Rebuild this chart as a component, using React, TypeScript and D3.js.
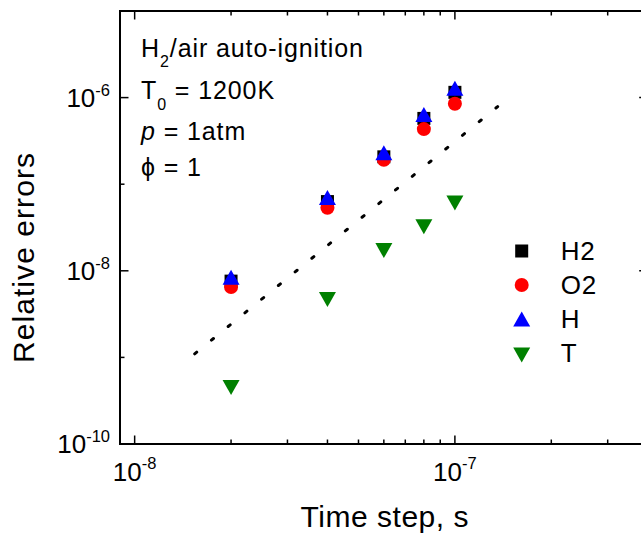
import * as d3 from "d3";

// time steps (s) and relative errors
const timeSteps = [2e-8, 4e-8, 6e-8, 8e-8, 1e-7];
const errH2 = [7.6e-9, 6.3e-8, 2.07e-7, 5.75e-7, 1.15e-6];
const errO2 = [6.5e-9, 5.35e-8, 1.91e-7, 4.33e-7, 8.5e-7];
const errH = [8.4e-9, 7.0e-8, 2.3e-7, 6.4e-7, 1.28e-6];
const errT = [4.5e-10, 4.65e-9, 1.71e-8, 3.23e-8, 6.05e-8];

// third-order reference line (end points)
const refX = [1.54e-8, 1.36e-7];
const refY = [1.1e-9, 7.87e-7];

const seriesNames = ["H2", "O2", "H", "T"];
const seriesColors = ["#000000", "#ff0000", "#0000ff", "#008000"];

const xLabelExps = [-8, -7];
const yLabelExps = [-10, -8, -6];
const yDecades = [-10, -9, -8, -7, -6, -5];

const font = "'Liberation Sans', Arial, sans-serif";

const Marker = ({ kind, cx, cy, color }) => {
  if (kind === 0) return <rect x={cx - 6.5} y={cy - 6.5} width={13} height={13} fill={color} />;
  if (kind === 1) return <circle cx={cx} cy={cy} r={7} fill={color} />;
  if (kind === 2)
    return <path d={`M${cx},${cy - 7.5}L${cx + 8.5},${cy + 7.5}L${cx - 8.5},${cy + 7.5}Z`} fill={color} />;
  return <path d={`M${cx - 8.5},${cy - 7.5}L${cx + 8.5},${cy - 7.5}L${cx},${cy + 7.5}Z`} fill={color} />;
};

export default function App() {
  const width = 641;
  const height = 533;
  const x = d3.scaleLog().domain([9e-9, 4e-7]).range([120, 647.7]);
  const y = d3.scaleLog().domain([1e-10, 1e-5]).range([444, 11]);
  const [x0, x1] = x.range();
  const [y0, y1] = y.range();

  const isDecade = (v) => Math.abs(Math.log10(v) - Math.round(Math.log10(v))) < 1e-6;
  const xTicks = x.ticks().filter((v) => x(v) > x0 + 1 && x(v) < x1 - 1);

  const series = [errH2, errO2, errH, errT];
  const line = d3
    .line()
    .x((d) => x(d[0]))
    .y((d) => y(d[1]));
  const refPts = refX.map((v, i) => [v, refY[i]]);

  return (
    <svg width={width} height={height} style={{ position: "absolute", left: 0, top: 0 }} fontFamily={font}>
      <rect width={width} height={height} fill="#fff" />

      {/* reference slope line */}
      <path
        d={line(refPts)}
        fill="none"
        stroke="#000"
        strokeWidth={3}
        strokeDasharray="2.6 19"
        strokeLinecap="round"
      />

      {/* data */}
      {series.map((vals, si) =>
        vals.map((v, i) => (
          <Marker key={si + "-" + i} kind={si} cx={x(timeSteps[i])} cy={y(v)} color={seriesColors[si]} />
        ))
      )}

      {/* frame */}
      <rect x={x0} y={y1} width={x1 - x0} height={y0 - y1} fill="none" stroke="#000" strokeWidth={2} />

      {/* x ticks (bottom and top, inward) */}
      {xTicks.map((v) => {
        const len = isDecade(v) ? 8.5 : 4.5;
        return (
          <g key={"xt" + v} stroke="#000" strokeWidth={1.5}>
            <line x1={x(v)} x2={x(v)} y1={y0} y2={y0 - len} />
            <line x1={x(v)} x2={x(v)} y1={y1} y2={y1 + len} />
          </g>
        );
      })}

      {/* y ticks (left and right, inward) */}
      {yDecades
        .filter((e) => e > -10 && e < -5)
        .map((e) => {
          const len = e % 2 === 0 ? 8.5 : 4.5;
          const yy = y(10 ** e);
          return (
            <g key={"yt" + e} stroke="#000" strokeWidth={1.5}>
              <line x1={x0} x2={x0 + len} y1={yy} y2={yy} />
              <line x1={x1} x2={x1 - len} y1={yy} y2={yy} />
            </g>
          );
        })}

      {/* tick labels */}
      {xLabelExps.map((e) => (
        <text key={"xl" + e} x={x(10 ** e)} y={y0 + 36.5} textAnchor="middle" fontSize={26}>
          10
          <tspan dy={-12} fontSize={16.5}>
            {"-" + Math.abs(e)}
          </tspan>
        </text>
      ))}
      {yLabelExps.map((e) => (
        <text key={"yl" + e} x={110} y={y(10 ** e) + 9} textAnchor="end" fontSize={26}>
          10
          <tspan dy={-11} fontSize={16.5}>
            {"-" + Math.abs(e)}
          </tspan>
        </text>
      ))}

      {/* axis titles */}
      <text x={384.5} y={527} textAnchor="middle" fontSize={30} textLength={168} lengthAdjust="spacing">
        Time step, s
      </text>
      <text
        transform="translate(34,258) rotate(-90)"
        textAnchor="middle"
        fontSize={30}
        textLength={210}
        lengthAdjust="spacing"
      >
        Relative errors
      </text>

      {/* annotation */}
      <g fontSize={25} letterSpacing={0.9}>
        <text x={141} y={57.3}>
          H<tspan fontSize={16} dy={9.5}>2</tspan>
          <tspan dy={-9.5}>/air auto-ignition</tspan>
        </text>
        <text x={141} y={99}>
          T<tspan fontSize={16} dy={11}>0</tspan>
          <tspan dy={-11}> = 1200K</tspan>
        </text>
        <text x={141} y={140}>
          <tspan fontStyle="italic">p</tspan> = 1atm
        </text>
        <text x={141} y={175.7}>
          ϕ = 1
        </text>
      </g>

      {/* legend */}
      {seriesNames.map((name, i) => {
        const cy = 251 + i * 34;
        return (
          <g key={"lg" + name}>
            <Marker kind={i} cx={521.7} cy={cy + (i === 3 ? 2 : 0)} color={seriesColors[i]} />
            <text x={560.7} y={cy + 9} fontSize={26} letterSpacing={0.9}>
              {name}
            </text>
          </g>
        );
      })}
    </svg>
  );
}
